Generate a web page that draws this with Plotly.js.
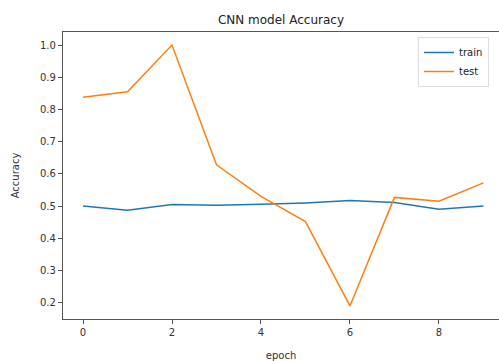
<!DOCTYPE html>
<html>
<head>
<meta charset="utf-8">
<script src="https://cdn.plot.ly/plotly-3.0.1.min.js"></script>
<style>body{margin:0;padding:0;background:#fff}#chart{width:499px;height:361px}</style>
</head>
<body>
<div id="chart"></div>
<script>
const epochs = [0, 1, 2, 3, 4, 5, 6, 7, 8, 9];
const trainAcc = [0.500, 0.487, 0.505, 0.503, 0.506, 0.510, 0.517, 0.511, 0.490, 0.500];
const testAcc = [0.838, 0.855, 1.000, 0.628, 0.530, 0.452, 0.190, 0.527, 0.515, 0.572];
const xTicks = [0, 2, 4, 6, 8];
const yTicks = [0.2, 0.3, 0.4, 0.5, 0.6, 0.7, 0.8, 0.9, 1.0];

const traces = [
  {x: epochs, y: trainAcc, name: 'train', mode: 'lines', line: {color: '#1f77b4', width: 1.5}},
  {x: epochs, y: testAcc, name: 'test', mode: 'lines', line: {color: '#ff7f0e', width: 1.5}}
];

const layout = {
  width: 499, height: 361,
  margin: {l: 63, r: 0, t: 32, b: 42},
  paper_bgcolor: '#fff', plot_bgcolor: '#fff',
  font: {family: 'DejaVu Sans', size: 10, color: '#333'},
  title: {text: 'CNN model Accuracy', font: {size: 12, color: '#222'}, x: 0.5, xref: 'paper', xanchor: 'center', y: 1 - 20/361, yanchor: 'middle'},
  xaxis: {
    range: [-0.45, 9.35], tickvals: xTicks, ticktext: xTicks.map(String),
    showgrid: false, zeroline: false, showline: true, mirror: true, linecolor: '#555', linewidth: 1.2,
    ticks: 'outside', ticklen: 4, tickcolor: '#555',
    title: {text: 'epoch', font: {size: 10}, standoff: 14}
  },
  yaxis: {
    range: [0.1495, 1.0405], tickvals: yTicks, ticktext: yTicks.map(v => v.toFixed(1)),
    showgrid: false, zeroline: false, showline: true, linecolor: '#555', linewidth: 1.2,
    ticks: 'outside', ticklen: 4, tickcolor: '#555',
    title: {text: 'Accuracy', font: {size: 10}, standoff: 18}
  },
  showlegend: true,
  legend: {x: (418 - 63) / 436, y: 1 - 5 / 287, xanchor: 'left', yanchor: 'top',
    bgcolor: '#fff', bordercolor: '#ddd', borderwidth: 1, font: {size: 10, color: '#222'}}
};

Plotly.newPlot('chart', traces, layout, {displayModeBar: false, staticPlot: true});
</script>
</body>
</html>
